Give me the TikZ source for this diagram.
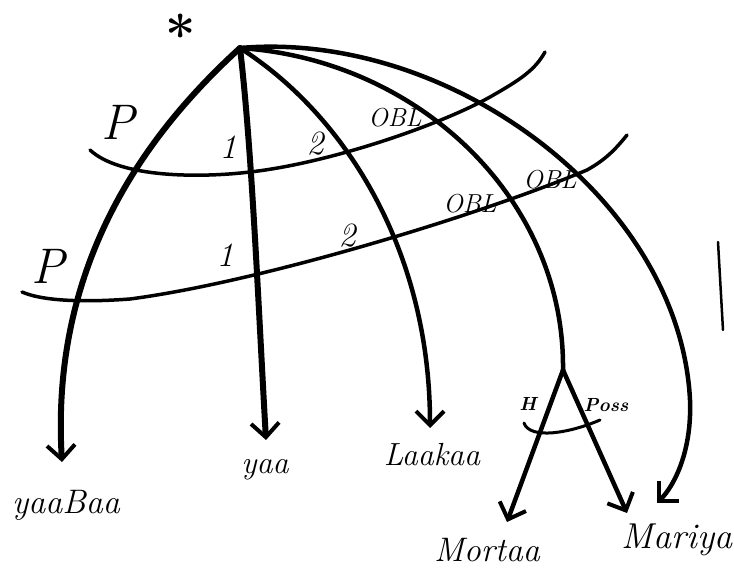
\documentclass[tikz,border=0pt]{standalone}
\usetikzlibrary{arrows.meta}
\begin{document}
\begin{tikzpicture}[x=1pt,y=-1pt,
  arcarrow/.style={line width=4.5pt, line cap=round, -{Straight Barb[length=14pt,width=28pt,line width=4pt]}},
  relline/.style={line width=4.5pt, line cap=round},
  gridarc/.style={line width=3.5pt, line cap=round},
  lab/.style={font=\fontsize{34}{36}\selectfont\itshape, inner sep=0pt},
  plab/.style={font=\fontsize{50}{52}\selectfont\itshape, inner sep=0pt},
  obl/.style={font=\fontsize{26}{28}\selectfont\itshape, inner sep=0pt},
  smalllab/.style={font=\fontsize{19}{21}\selectfont\bfseries\itshape, inner sep=0pt},
  word/.style={inner sep=0pt}]
\useasboundingbox (0,0) rectangle (734,569);

% root and tips
\coordinate (root) at (240,48);
\coordinate (tA) at (62,462);
\coordinate (tB) at (266,440);
\coordinate (tC) at (430,428);
\coordinate (fork) at (563,370);
\coordinate (tD) at (507,522);
\coordinate (tE) at (627,513);
\coordinate (p5) at (690,400);
\coordinate (tF) at (657,503);

\node[font=\fontsize{54}{56}\selectfont\bfseries, inner sep=0pt] (star) at (181,34) {*};

% grid arcs
\draw[gridarc] (90,150) .. controls (120,178) and (200,178) .. (250,172)
  .. controls (330,163) and (440,125) .. (490,97)
  .. controls (520,80) and (535,70) .. (545,52);
\draw[gridarc] (22,292) .. controls (45,302) and (90,302) .. (130,299)
  .. controls (260,282) and (480,215) .. (587,170)
  .. controls (605,160) and (615,150) .. (627,135);

% relational arcs
\draw[arcarrow, line width=6pt] (root) .. controls (150,130) and (50,260) .. (tA);
\draw[arcarrow, line width=6pt] (root) .. controls (252,150) and (258,300) .. (tB);
\draw[arcarrow] (root) .. controls (345,115) and (430,250) .. (tC);
\draw[relline] (root) .. controls (420,60) and (565,200) .. (fork);
\draw[arcarrow] (fork) -- (tD);
\draw[arcarrow] (fork) -- (tE);
\draw[arcarrow] (root) .. controls (450,30) and (680,200) .. (p5)
  .. controls (692,450) and (675,485) .. (tF);

% H / Poss arc
\draw[gridarc, line width=3pt] (524,423) .. controls (530,440) and (570,433) .. (600,420);

% bracket
\draw[line width=2.5pt, line cap=round] (718,242) -- (723,330);

% labels
\node[plab] (p1) at (118,122) {P};
\node[plab] (p2) at (48,266) {P};
\node[lab] (one1) at (228,147) {1};
\node[lab] (one2) at (225,255) {1};
\node[lab] (two1) at (315,144) {2};
\node[lab] (two2) at (347,236) {2};
\node[obl] (obl1) at (395,118) {OBL};
\node[obl] (obl2) at (470,204) {OBL};
\node[obl] (obl3) at (550,180) {OBL};
\node[smalllab] (h) at (528,404) {H};
\node[smalllab] (poss) at (606,405) {Poss};

% words
\node[word, font=\fontsize{34}{36}\selectfont\itshape] (yaaBaa) at (66,505) {yaaBaa};
\node[word, font=\fontsize{32}{34}\selectfont\itshape] (yaa) at (265,470) {yaa};
\node[word, font=\fontsize{32}{34}\selectfont\itshape] (Laakaa) at (432,455) {Laakaa};
\node[word, font=\fontsize{34}{36}\selectfont\itshape] (Mortaa) at (487,550) {Mortaa};
\node[word, font=\fontsize{36}{38}\selectfont\itshape] (Mariya) at (677,540) {Mariya};
\end{tikzpicture}
\end{document}
